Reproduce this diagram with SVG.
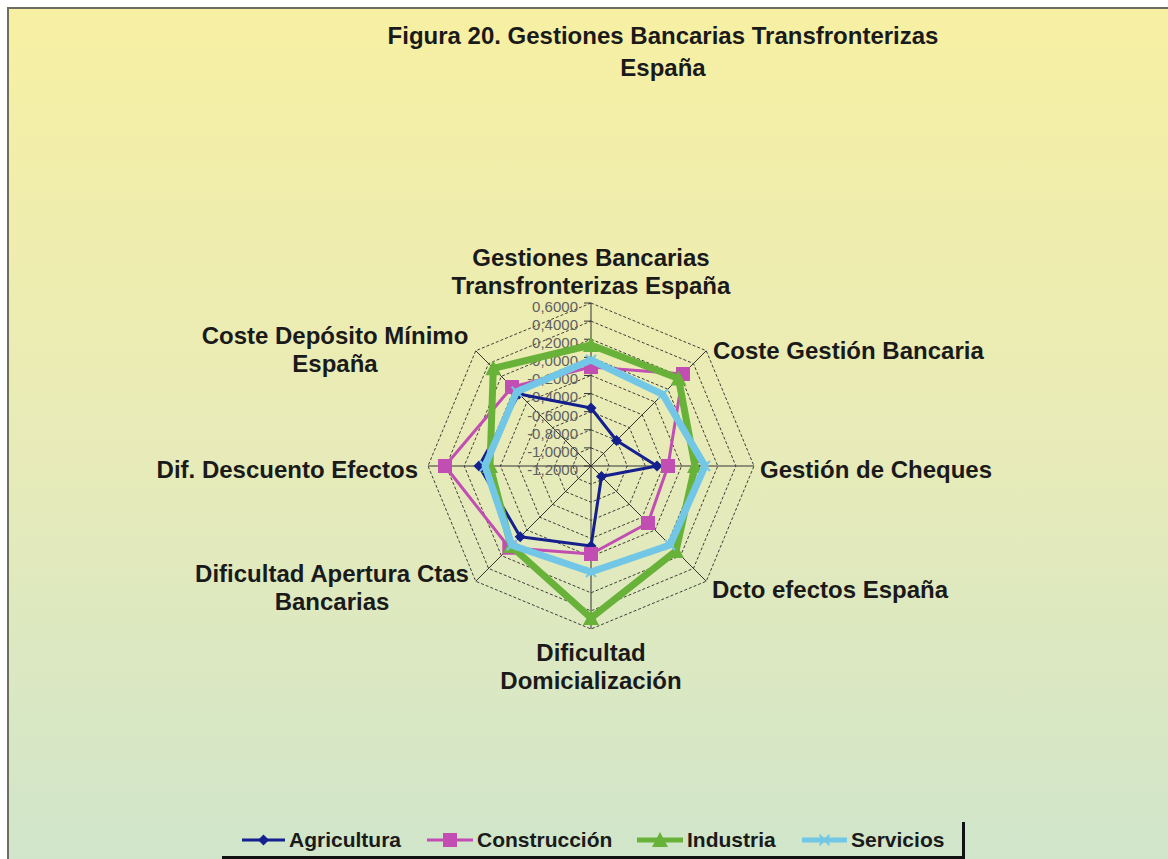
<svg xmlns="http://www.w3.org/2000/svg" width="1168" height="859" viewBox="0 0 1168 859">
<defs>
<linearGradient id="bg" x1="0" y1="0" x2="0" y2="1">
<stop offset="0" stop-color="#f7f0a3"/>
<stop offset="0.5" stop-color="#e8ebb8"/>
<stop offset="1" stop-color="#cfe5cb"/>
</linearGradient>
<marker id="mDia" viewBox="-7 -7 14 14" refX="0" refY="0" markerWidth="14" markerHeight="14" markerUnits="userSpaceOnUse" orient="0">
<path d="M0,-5.5 L5.5,0 L0,5.5 L-5.5,0 Z" fill="#15208f"/>
</marker>
<marker id="mSq" viewBox="-8 -8 16 16" refX="0" refY="0" markerWidth="16" markerHeight="16" markerUnits="userSpaceOnUse" orient="0">
<rect x="-7" y="-7" width="14" height="14" fill="#c24db3"/>
</marker>
<marker id="mTri" viewBox="-9 -9 18 18" refX="0" refY="0" markerWidth="18" markerHeight="18" markerUnits="userSpaceOnUse" orient="0">
<path d="M0,-8 L8,7 L-8,7 Z" fill="#68b23a"/>
</marker>
<marker id="mX" viewBox="-7 -7 14 14" refX="0" refY="0" markerWidth="14" markerHeight="14" markerUnits="userSpaceOnUse" orient="0">
<path d="M-5,-5 L5,5 M5,-5 L-5,5" stroke="#73c7e6" stroke-width="2" fill="none"/>
</marker>
</defs>
<style>
.grid{fill:none;stroke:#2b2b2b;stroke-width:0.9;stroke-dasharray:3 2}
.axis{stroke:#333;stroke-width:1}
.tick{fill:#606060;font-family:"Liberation Sans",Arial,sans-serif;font-size:15px;text-anchor:end}
.cat{fill:#1a1a1a;font-family:"Liberation Sans",Arial,sans-serif;font-size:24px;font-weight:bold}
.ttl{fill:#1a1a1a;font-family:"Liberation Sans",Arial,sans-serif;font-size:24px;font-weight:bold;text-anchor:middle}
.leg{fill:#1a1a1a;font-family:"Liberation Sans",Arial,sans-serif;font-size:21px;font-weight:bold}
.s-agr{fill:none;stroke:#15208f;stroke-width:3;stroke-linejoin:round;marker-start:url(#mDia);marker-mid:url(#mDia)}
.s-con{fill:none;stroke:#c24db3;stroke-width:3;stroke-linejoin:round;marker-start:url(#mSq);marker-mid:url(#mSq)}
.s-ind{fill:none;stroke:#68b23a;stroke-width:7;stroke-linejoin:round;marker-start:url(#mTri);marker-mid:url(#mTri)}
.s-ser{fill:none;stroke:#73c7e6;stroke-width:7;stroke-linejoin:round;marker-start:url(#mX);marker-mid:url(#mX)}
</style>
<rect x="0" y="0" width="1168" height="859" fill="#ffffff"/>
<rect id="chart-area" x="8" y="8" width="1170" height="870" fill="url(#bg)" stroke="#6e6e60" stroke-width="2"/>
<g id="title">
<text class="ttl" x="663" y="44">Figura 20. Gestiones Bancarias Transfronterizas</text>
<text class="ttl" x="663" y="76">España</text>
</g>
<g id="grid">
<polygon class="grid" points="591,447.89 603.81,453.19 609.11,466 603.81,478.81 591,484.11 578.19,478.81 572.89,466 578.19,453.19"/>
<polygon class="grid" points="591,429.78 616.61,440.39 627.22,466 616.61,491.61 591,502.22 565.39,491.61 554.78,466 565.39,440.39"/>
<polygon class="grid" points="591,411.67 629.42,427.58 645.33,466 629.42,504.42 591,520.33 552.58,504.42 536.67,466 552.58,427.58"/>
<polygon class="grid" points="591,393.56 642.22,414.78 663.44,466 642.22,517.22 591,538.44 539.78,517.22 518.56,466 539.78,414.78"/>
<polygon class="grid" points="591,375.44 655.03,401.97 681.56,466 655.03,530.03 591,556.56 526.97,530.03 500.44,466 526.97,401.97"/>
<polygon class="grid" points="591,357.33 667.84,389.16 699.67,466 667.84,542.84 591,574.67 514.16,542.84 482.33,466 514.16,389.16"/>
<polygon class="grid" points="591,339.22 680.65,376.35 717.78,466 680.65,555.65 591,592.78 501.35,555.65 464.22,466 501.35,376.35"/>
<polygon class="grid" points="591,321.11 693.45,363.55 735.89,466 693.45,568.45 591,610.89 488.55,568.45 446.11,466 488.55,363.55"/>
<polygon class="grid" points="591,303 706.26,350.74 754,466 706.26,581.26 591,629 475.74,581.26 428,466 475.74,350.74"/>
<g class="axis">
<line x1="591" y1="466" x2="591" y2="303"/>
<line x1="591" y1="466" x2="706.26" y2="350.74"/>
<line x1="591" y1="466" x2="754" y2="466"/>
<line x1="591" y1="466" x2="706.26" y2="581.26"/>
<line x1="591" y1="466" x2="591" y2="629"/>
<line x1="591" y1="466" x2="475.74" y2="581.26"/>
<line x1="591" y1="466" x2="428" y2="466"/>
<line x1="591" y1="466" x2="475.74" y2="350.74"/>
<line x1="584" y1="303" x2="591" y2="303"/>
<line x1="584" y1="321.11" x2="591" y2="321.11"/>
<line x1="584" y1="339.22" x2="591" y2="339.22"/>
<line x1="584" y1="357.33" x2="591" y2="357.33"/>
<line x1="584" y1="375.44" x2="591" y2="375.44"/>
<line x1="584" y1="393.56" x2="591" y2="393.56"/>
<line x1="584" y1="411.67" x2="591" y2="411.67"/>
<line x1="584" y1="429.78" x2="591" y2="429.78"/>
<line x1="584" y1="447.89" x2="591" y2="447.89"/>
<line x1="584" y1="466" x2="591" y2="466"/>
</g>
</g>
<g id="tick-labels">
<text class="tick" x="578" y="312">0,6000</text>
<text class="tick" x="578" y="330">0,4000</text>
<text class="tick" x="578" y="348">0,2000</text>
<text class="tick" x="578" y="366">0,0000</text>
<text class="tick" x="578" y="384">-0,2000</text>
<text class="tick" x="578" y="402">-0,4000</text>
<text class="tick" x="578" y="420.5">-0,6000</text>
<text class="tick" x="578" y="438.5">-0,8000</text>
<text class="tick" x="578" y="457">-1,0000</text>
<text class="tick" x="578" y="475">-1,2000</text>
</g>
<g id="cat-gestiones"><text class="cat" x="591" y="266" text-anchor="middle">Gestiones Bancarias</text><text class="cat" x="591" y="294" text-anchor="middle">Transfronterizas España</text></g>
<g id="cat-coste-gestion"><text class="cat" x="713" y="359">Coste Gestión Bancaria</text></g>
<g id="cat-cheques"><text class="cat" x="760" y="478">Gestión de Cheques</text></g>
<g id="cat-dcto"><text class="cat" x="712" y="598">Dcto efectos España</text></g>
<g id="cat-domicializacion"><text class="cat" x="591" y="661" text-anchor="middle">Dificultad</text><text class="cat" x="591" y="689" text-anchor="middle">Domicialización</text></g>
<g id="cat-apertura"><text class="cat" x="332" y="582" text-anchor="middle">Dificultad Apertura Ctas</text><text class="cat" x="332" y="610" text-anchor="middle">Bancarias</text></g>
<g id="cat-descuento"><text class="cat" x="418" y="478" text-anchor="end">Dif. Descuento Efectos</text></g>
<g id="cat-deposito"><text class="cat" x="335" y="344" text-anchor="middle">Coste Depósito Mínimo</text><text class="cat" x="335" y="372" text-anchor="middle">España</text></g>
<g id="series">
<polygon id="agricultura" class="s-agr" points="591,408 616.5,440.5 657,466 601.5,476.5 591,546 520.2,536.8 479,466 519,394"/>
<polygon id="construccion" class="s-con" points="591,367 683,374 668,466 648,523 591,554 509.3,547.7 445,466 512,387"/>
<polygon id="industria" class="s-ind" points="591,345 678.5,378.5 695,466 676,551 591,618 511,546 490,466 493.3,368.3"/>
<polygon id="servicios" class="s-ser" points="591,360 662.7,394.3 705,466 670,545 591,572 511.8,545.2 485,466 516.7,391.7"/>
</g>
<g id="legend">
<path d="M242,840 L263.5,840 L285,840" fill="none" stroke="#15208f" stroke-width="3" marker-mid="url(#mDia)"/>
<text class="leg" x="289" y="847">Agricultura</text>
<path d="M427,840 L450,840 L473,840" fill="none" stroke="#c24db3" stroke-width="3" marker-mid="url(#mSq)"/>
<text class="leg" x="477" y="847">Construcción</text>
<path d="M637,840 L660,840 L683,840" fill="none" stroke="#68b23a" stroke-width="5" marker-mid="url(#mTri)"/>
<text class="leg" x="687" y="847">Industria</text>
<path d="M802,840 L824.5,840 L847,840" fill="none" stroke="#73c7e6" stroke-width="5" marker-mid="url(#mX)"/>
<text class="leg" x="851" y="847">Servicios</text>
<path d="M222,857.5 L963.5,857.5 L963.5,822" fill="none" stroke="#111" stroke-width="3"/>
</g>
</svg>
